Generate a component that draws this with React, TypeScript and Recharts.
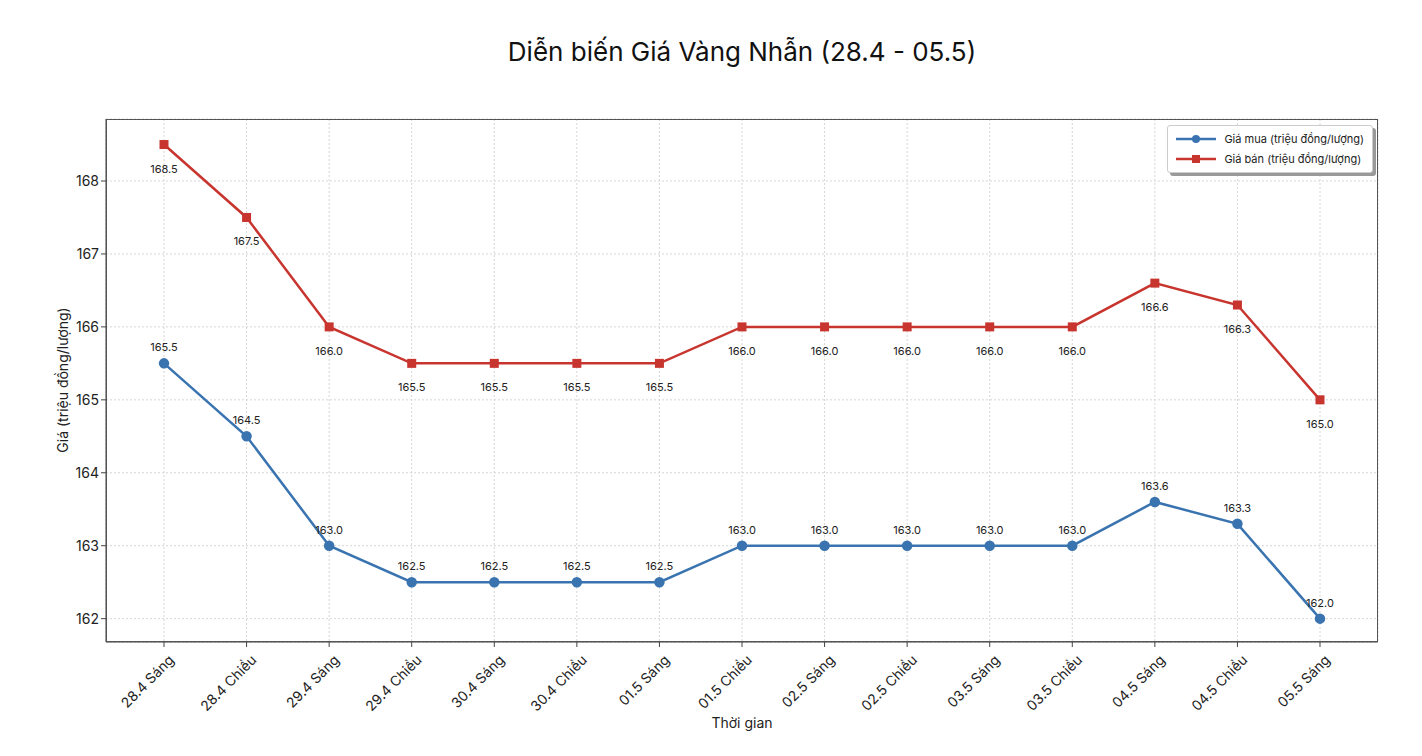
import React from 'react'
import {
  LineChart,
  Line,
  XAxis,
  YAxis,
  CartesianGrid,
  LabelList,
} from 'recharts'

const categories = [
  '28.4 Sáng', '28.4 Chiều', '29.4 Sáng', '29.4 Chiều', '30.4 Sáng',
  '30.4 Chiều', '01.5 Sáng', '01.5 Chiều', '02.5 Sáng', '02.5 Chiều',
  '03.5 Sáng', '03.5 Chiều', '04.5 Sáng', '04.5 Chiều', '05.5 Sáng',
]
const buyPrices = [165.5, 164.5, 163.0, 162.5, 162.5, 162.5, 162.5, 163.0, 163.0, 163.0, 163.0, 163.0, 163.6, 163.3, 162.0]
const sellPrices = [168.5, 167.5, 166.0, 165.5, 165.5, 165.5, 165.5, 166.0, 166.0, 166.0, 166.0, 166.0, 166.6, 166.3, 165.0]
const yTicks = [162, 163, 164, 165, 166, 167, 168]

const BUY = '#3a74b0'
const SELL = '#c8352f'
const FONT = 'Inter, "Open Sans", sans-serif'

const data = categories.map((name, i) => ({ name, buy: buyPrices[i], sell: sellPrices[i] }))

const SquareDot = (props: any) => {
  const { cx, cy } = props
  if (cx == null || cy == null) return null
  return <rect x={cx - 4.5} y={cy - 4.5} width={9} height={9} fill={SELL} />
}

const XTick = (props: any) => {
  const { x, y, payload } = props
  return (
    <text
      x={x + 3}
      y={y + 4}
      transform={`rotate(-45, ${x + 3}, ${y + 4})`}
      textAnchor="end"
      dominantBaseline="hanging"
      fontSize={14}
      fill="#222"
      fontFamily={FONT}
    >
      {payload.value}
    </text>
  )
}

const BuyLabel = (props: any) => {
  const { x, y, value } = props
  return (
    <text x={x} y={y - 12} textAnchor="middle" fontSize={11} fill="#222" fontFamily={FONT}>
      {Number(value).toFixed(1)}
    </text>
  )
}

const SellLabel = (props: any) => {
  const { x, y, value } = props
  return (
    <text x={x} y={y + 28} textAnchor="middle" fontSize={11} fill="#222" fontFamily={FONT}>
      {Number(value).toFixed(1)}
    </text>
  )
}

const LegendBox = () => (
  <div
    style={{
      position: 'absolute',
      top: 117,
      right: 41,
      border: '1px solid #ccc',
      borderRadius: 3,
      background: '#fff',
      boxShadow: '3px 3px 0 #999',
      padding: '3px 8px',
      fontSize: 11,
      fontFamily: FONT,
      color: '#222',
      lineHeight: '20px',
    }}
  >
    <div style={{ display: 'flex', alignItems: 'center' }}>
      <svg width={40} height={10} style={{ marginRight: 8 }}>
        <line x1={0} y1={5} x2={40} y2={5} stroke={BUY} strokeWidth={2.5} />
        <circle cx={20} cy={5} r={4} fill={BUY} />
      </svg>
      Giá mua (triệu đồng/lượng)
    </div>
    <div style={{ display: 'flex', alignItems: 'center' }}>
      <svg width={40} height={10} style={{ marginRight: 8 }}>
        <line x1={0} y1={5} x2={40} y2={5} stroke={SELL} strokeWidth={2.5} />
        <rect x={16} y={1} width={8} height={8} fill={SELL} />
      </svg>
      Giá bán (triệu đồng/lượng)
    </div>
  </div>
)

export default function App() {
  return (
    <div style={{ position: 'relative', width: 1406, height: 740, fontFamily: FONT, background: '#fff' }}>
      <div
        style={{
          position: 'absolute',
          top: 28,
          left: 0,
          width: 1468,
          textAlign: 'center',
          fontSize: 26,
          color: '#111',
        }}
      >
        Diễn biến Giá Vàng Nhẫn (28.4 - 05.5)
      </div>
      <LineChart
        width={1406}
        height={740}
        data={data}
        margin={{ top: 111, right: 36, left: 38, bottom: 16 }}
      >
        <CartesianGrid stroke="#d6d6d6" strokeDasharray="2 2" />
        <XAxis
          dataKey="name"
          padding={{ left: 58, right: 58 }}
          tick={<XTick />}
          tickSize={5}
          interval={0}
          height={90}
          stroke="#444"
        />
        <YAxis
          domain={[161.68, 168.85]}
          ticks={yTicks}
          allowDataOverflow
          width={60}
          tickSize={5}
          stroke="#444"
          tick={{ fontSize: 14, fill: '#222', fontFamily: FONT }}
        />
        <Line
          dataKey="buy"
          name="Giá mua (triệu đồng/lượng)"
          stroke={BUY}
          strokeWidth={2.5}
          dot={{ r: 4, fill: BUY, stroke: BUY }}
          isAnimationActive={false}
        >
          <LabelList dataKey="buy" content={<BuyLabel />} />
        </Line>
        <Line
          dataKey="sell"
          name="Giá bán (triệu đồng/lượng)"
          stroke={SELL}
          strokeWidth={2.5}
          dot={<SquareDot />}
          isAnimationActive={false}
        >
          <LabelList dataKey="sell" content={<SellLabel />} />
        </Line>
      </LineChart>
      <LegendBox />
      <div
        style={{
          position: 'absolute',
          left: 98,
          top: 111,
          width: 1272,
          height: 523,
          border: '1px solid #555',
          boxSizing: 'border-box',
          pointerEvents: 'none',
        }}
      />
      <div
        style={{
          position: 'absolute',
          left: 0,
          top: 706,
          width: 1468,
          textAlign: 'center',
          fontSize: 14,
          color: '#222',
        }}
      >
        Thời gian
      </div>
      <div
        style={{
          position: 'absolute',
          left: 54,
          top: 372,
          transform: 'translate(-50%, -50%) rotate(-90deg)',
          whiteSpace: 'nowrap',
          fontSize: 14,
          color: '#222',
        }}
      >
        Giá (triệu đồng/lượng)
      </div>
    </div>
  )
}
